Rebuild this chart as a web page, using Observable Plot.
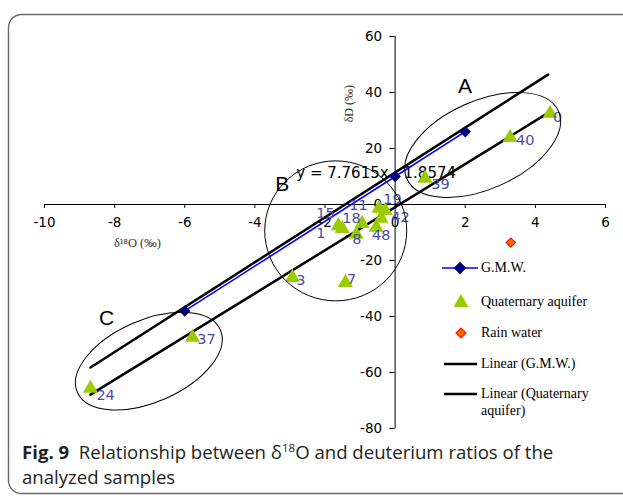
<!DOCTYPE html>
<html><head><meta charset="utf-8">
<script src="https://cdn.jsdelivr.net/npm/d3@7"></script>
<script src="https://cdn.jsdelivr.net/npm/@observablehq/plot@0.6"></script>
<style>
body{margin:0;background:#fff;}
#wrap{position:relative;width:623px;height:496px;overflow:hidden;background:#fff;}
#border{position:absolute;left:0;top:0;}
#chart{position:absolute;left:0;top:0;}
.leg{position:absolute;left:440px;font-family:"Liberation Serif","Times New Roman",serif;font-size:14px;color:#000;}
.leg svg{position:absolute;left:0;top:0;}
.leg span{position:absolute;left:41px;top:-9px;white-space:nowrap;line-height:17px;}
#caption{position:absolute;left:22px;top:439px;font-family:"Open Sans",sans-serif;font-size:18.6px;line-height:25px;color:#231f20;white-space:nowrap;}
#caption sup{font-size:11.5px;line-height:0;}
</style></head><body>
<div id="wrap">
<svg id="border" width="623" height="496"><rect x="8.5" y="14.5" width="660" height="479" rx="13" ry="13" fill="none" stroke="#6a6a6a" stroke-width="1.4"/></svg>
<div id="chart"></div>
<div class="leg" style="top:268px"><svg width="40" height="2" style="overflow:visible"><line x1="2" y1="0" x2="38" y2="0" stroke="#0000ff" stroke-width="1.5"/><rect x="-4.5" y="-4.5" width="9" height="9" fill="#000080" transform="translate(20,0) rotate(45)"/></svg><span>G.M.W.</span></div>
<div class="leg" style="top:302px"><svg width="40" height="2" style="overflow:visible"><path d="M21,-8 L28.5,5 L13.5,5 Z" fill="#99cc00"/></svg><span>Quaternary aquifer</span></div>
<div class="leg" style="top:333px"><svg width="40" height="2" style="overflow:visible"><rect x="-3.5" y="-3.5" width="7" height="7" fill="#ff6a00" stroke="#ff1a00" stroke-width="1.3" transform="translate(21,0) rotate(45)"/></svg><span>Rain water</span></div>
<div class="leg" style="top:364px"><svg width="40" height="2" style="overflow:visible"><line x1="4" y1="0" x2="37" y2="0" stroke="#000" stroke-width="2.5"/></svg><span>Linear (G.M.W.)</span></div>
<div class="leg" style="top:394px"><svg width="40" height="2" style="overflow:visible"><line x1="4" y1="0" x2="37" y2="0" stroke="#000" stroke-width="2.5"/></svg><span>Linear (Quaternary<br>aquifer)</span></div>
<div id="caption"><b>Fig. 9</b>&nbsp; Relationship between δ<sup>18</sup>O and deuterium ratios of the<br>analyzed samples</div>
</div>
<script>
// G.M.W. series
const gmwX = [-6, 0, 2];
const gmwY = [-38, 10, 26];
// Quaternary aquifer samples
const aqX = [4.42, 3.28, 0.85, -5.78, -8.69, -2.93, -1.42, -1.51, -1.62, -0.94, -0.54, -0.40, -0.46, -0.28, -1.11];
const aqY = [32.5, 23.9, 9.3, -47.5, -65.7, -26.1, -27.9, -8.6, -7.6, -6.8, -8.2, -5.0, -1.4, -2.2, -10.7];
// Rain water
const rainX = [3.3];
const rainY = [-13.6];
// Sample labels
const labelText = ["0", "40", "39", "37", "24", "3", "7", "15", "1", "11", "18", "8", "48", "19", "42"];
const labelX = [4.5, 3.45, 1.03, -5.64, -8.52, -2.82, -1.37, -2.25, -2.25, -1.31, -1.51, -1.22, -0.66, -0.34, -0.11];
const labelY = [31.1, 22.9, 7.1, -48.2, -68.2, -27.1, -26.8, -3.2, -10.4, -0.4, -5.0, -12.5, -11.1, 1.8, -4.6];
// Linear trend lines (end points)
const gmwTrendX = [-8.69, 4.36];
const gmwTrendY = [-58.2, 46.4];
const aqTrendX = [-8.69, 4.39];
const aqTrendY = [-67.9, 32.9];
const equation = "y = 7.7615x - 1.8574";
const equationPos = [-2.82, 11.1];
// Group annotations
const groupName = ["A", "B", "C"];
const groupLabelX = [1.99, -3.22, -8.23];
const groupLabelY = [42.1, 7.1, -40.7];
const groupCx = [2.51, -1.68, -7.01];
const groupCy = [21.1, -9.6, -56.1];
// Axis ticks
const xTicks = [-10, -8, -6, -4, -2, 0, 2, 4, 6];
const yTicks = [-80, -60, -40, -20, 0, 20, 40, 60];

const gmw = gmwX.map((x, i) => ({x, y: gmwY[i]}));
const aq = aqX.map((x, i) => ({x, y: aqY[i]}));
const rain = rainX.map((x, i) => ({x, y: rainY[i]}));
const labels = labelText.map((t, i) => ({t, x: labelX[i], y: labelY[i]}));
const gmwTrend = gmwTrendX.map((x, i) => ({x, y: gmwTrendY[i]}));
const aqTrend = aqTrendX.map((x, i) => ({x, y: aqTrendY[i]}));
const groups = groupName.map((n, i) => ({n, x: groupLabelX[i], y: groupLabelY[i]}));

const tickFont = "DejaVu Sans, sans-serif";
const plot = Plot.plot({
  width: 623, height: 440,
  marginLeft: 44, marginRight: 18, marginTop: 36, marginBottom: 12,
  x: {domain: [-10, 6], axis: null},
  y: {domain: [-80, 60], axis: null},
  style: {background: "transparent", overflow: "visible"},
  marks: [
    // axes crossing at zero
    Plot.ruleY([0], {x1: -10, x2: 6, stroke: "#000", strokeWidth: 1}),
    Plot.ruleX([0], {y1: -80, y2: 60, stroke: "#000", strokeWidth: 1}),
    Plot.ruleX(xTicks, {x: d => d, y1: 0, y2: -1.4, stroke: "#000"}),
    Plot.ruleY(yTicks, {y: d => d, x1: 0, x2: -0.15, stroke: "#000"}),
    Plot.text(xTicks, {x: d => d, y: 0, dy: 18, text: d => String(d), fontFamily: tickFont, fontSize: 13.5, fill: "#000"}),
    Plot.text(yTicks, {x: 0, y: d => d, dx: -13, text: d => String(d), textAnchor: "end", fontFamily: tickFont, fontSize: 13.5, fill: "#000"}),
    Plot.text(["δD (‰)"], {x: -1.3, y: 36, text: d => d, rotate: -90, fontFamily: "Liberation Serif, serif", fontSize: 12, fill: "#333"}),
    Plot.text(["δ¹⁸O (‰)"], {x: -7.35, y: -13.9, text: d => d, fontFamily: "Liberation Serif, serif", fontSize: 12.5, fill: "#333"}),
    // equation
    Plot.text([equation], {x: equationPos[0], y: equationPos[1], text: d => d, textAnchor: "start", fontFamily: tickFont, fontSize: 15, fill: "#000"}),
    // G.M.W. series line
    Plot.line(gmw, {x: "x", y: "y", stroke: "#0000ff", strokeWidth: 1.6}),
    // trend lines
    Plot.line(gmwTrend, {x: "x", y: "y", stroke: "#000", strokeWidth: 2.5}),
    Plot.line(aqTrend, {x: "x", y: "y", stroke: "#000", strokeWidth: 2.5}),
    // points
    Plot.dot(aq, {x: "x", y: "y", symbol: "triangle", r: 5.6, fill: "#99cc00", stroke: "none"}),
    Plot.dot(gmw, {x: "x", y: "y", symbol: "square", rotate: 45, r: 4.6, fill: "#000080", stroke: "none"}),
    Plot.dot(rain, {x: "x", y: "y", symbol: "square", rotate: 45, r: 3.6, fill: "#ff6a00", stroke: "#ff1a00", strokeWidth: 1.3}),
    // sample labels
    Plot.text(labels, {x: "x", y: "y", text: "t", textAnchor: "start", fontFamily: tickFont, fontSize: 14.5, fill: "#4b4ba8"}),
    // group letters
    Plot.text(groups, {x: "x", y: "y", text: "n", fontFamily: "Liberation Sans, Arial, sans-serif", fontSize: 21, fill: "#000"})
  ]
});
document.getElementById("chart").appendChild(plot);

// group ellipses placed through the plot's scales
const sx = plot.scale("x"), sy = plot.scale("y");
const ellShape = [[83, 44, -24], [71, 70, 0], [78, 41, -23.5]];
const svg = d3.select(plot);
groupCx.forEach((cx, i) => {
  const px = sx.apply(cx), py = sy.apply(groupCy[i]);
  const [rx, ry, rot] = ellShape[i];
  svg.append("ellipse")
    .attr("cx", 0).attr("cy", 0).attr("rx", rx).attr("ry", ry)
    .attr("transform", `translate(${px},${py}) rotate(${rot})`)
    .attr("fill", "none").attr("stroke", "#000").attr("stroke-width", 1);
});
</script>
</body></html>
